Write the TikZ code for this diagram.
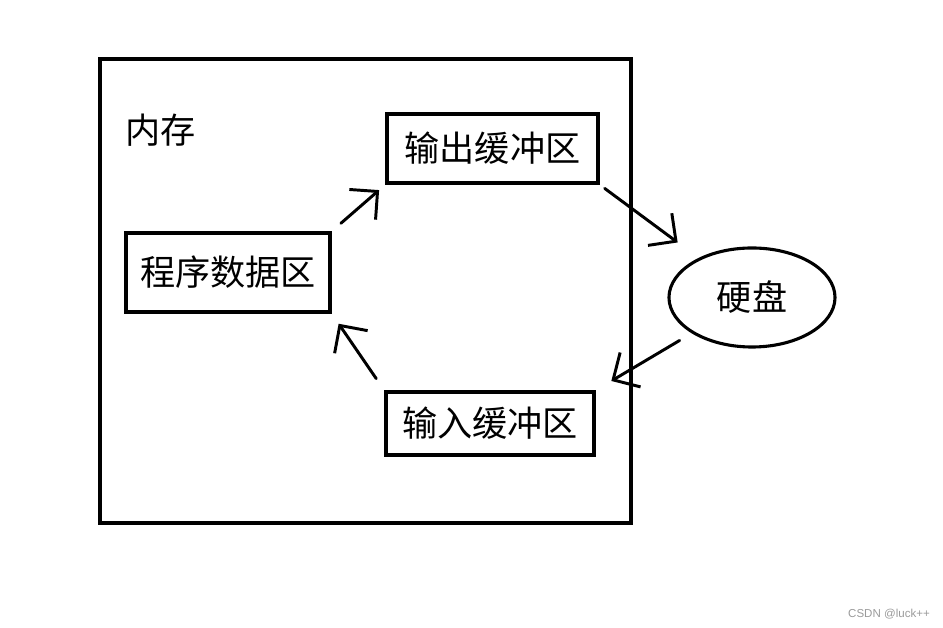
\documentclass[tikz,border=0pt]{standalone}
\usepackage{fontspec}
\setmainfont{Liberation Sans}
\newfontfamily\cjk{Noto Sans CJK SC}
\usepackage{tikz}
\usetikzlibrary{arrows.meta,shapes.geometric}
\definecolor{ink}{HTML}{000000}
\definecolor{wmark}{HTML}{9A9A9A}
\tikzset{
  box/.style={draw=ink, line width=2.6pt, inner sep=0pt, text=ink,
              font=\cjk\fontsize{25}{30}\selectfont},
  flow/.style={-{Straight Barb[length=5mm,width=10mm]}, line width=2.1pt,
               line cap=round, draw=ink},
  lbl/.style={font=\cjk\fontsize{25}{30}\selectfont, text=ink}
}

\begin{document}
\begin{tikzpicture}[x=0.025cm, y=-0.025cm]
  \useasboundingbox (0,0) rectangle (943,628);
  \node[draw=ink, line width=2.3pt, minimum width=13.275cm, minimum height=11.6cm] (mem) at (365.5,291) {};
  \node[lbl] (memlbl) at (160.5,130) {内存};
  \node[box, minimum width=5.275cm, minimum height=1.725cm] (outbuf) at (492.5,148.5) {输出缓冲区};
  \node[box, minimum width=5.1cm, minimum height=1.975cm] (data) at (228,272.5) {程序数据区};
  \node[box, minimum width=5.2cm, minimum height=1.575cm] (inbuf) at (490,423.5) {输入缓冲区};
  \node[box, ellipse, line width=2.2pt, minimum width=4.15cm, minimum height=2.475cm] (disk) at (752,297.5) {硬盘};
  \draw[flow, shorten <=3mm, shorten >=2mm] (data.north east) -- (outbuf.south west);
  \draw[flow, shorten <=1.5mm, shorten >=6.5mm] (outbuf.south east) -- (disk);
  \draw[flow, shorten <=3.5mm, shorten >=4.5mm] (disk) -- (inbuf.north east);
  \draw[flow, shorten <=3.5mm, shorten >=3mm] (inbuf.north west) -- (data.south east);
  \node[font=\fontsize{8.2}{10}\selectfont, text=wmark] (mark) at (889,614) {CSDN @luck++};
\end{tikzpicture}
\end{document}
